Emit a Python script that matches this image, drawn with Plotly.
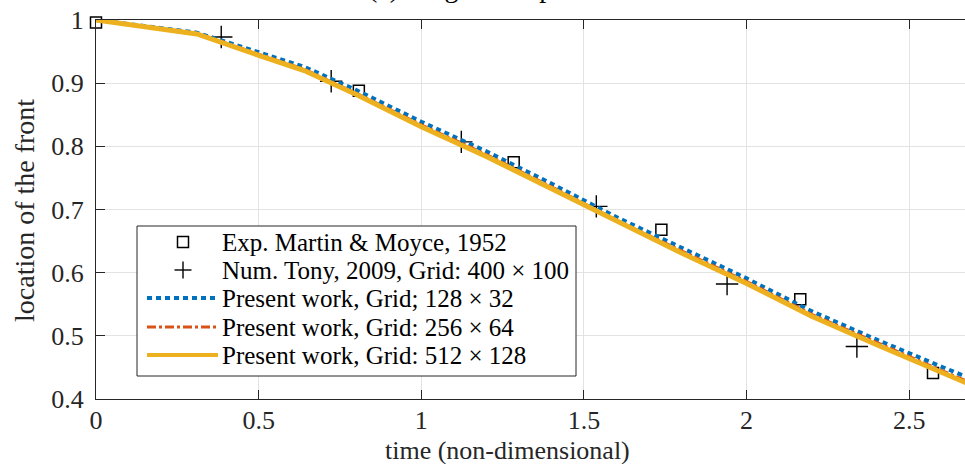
import plotly.graph_objects as go

# Experimental data (Martin & Moyce, 1952)
exp_t = [0.0, 0.808, 1.284, 1.738, 2.165, 2.573]
exp_z = [0.996, 0.888, 0.775, 0.668, 0.558, 0.441]

# Numerical reference (Tony, 2009)
tony_t = [0.385, 0.723, 1.123, 1.538, 1.940, 2.339]
tony_z = [0.973, 0.903, 0.807, 0.705, 0.582, 0.483]

# Present work, three grid resolutions
t_sim = [0.0, 0.31, 0.5, 0.64, 0.8, 1.0, 1.2, 1.4, 1.6, 1.8, 2.0, 2.2, 2.4, 2.6, 2.7]
z_128 = [1.000, 0.980, 0.949, 0.926, 0.889, 0.839, 0.792, 0.741, 0.688, 0.639, 0.591, 0.539, 0.494, 0.451, 0.430]
z_256 = [1.000, 0.979, 0.946, 0.922, 0.884, 0.834, 0.787, 0.736, 0.683, 0.634, 0.586, 0.534, 0.489, 0.445, 0.423]
z_512 = [1.000, 0.978, 0.944, 0.920, 0.882, 0.831, 0.784, 0.733, 0.680, 0.631, 0.583, 0.531, 0.486, 0.442, 0.420]

x_ticks = [0, 0.5, 1, 1.5, 2, 2.5]
y_ticks = [0.4, 0.5, 0.6, 0.7, 0.8, 0.9, 1.0]

legend_names = [
    "Exp. Martin & Moyce, 1952",
    "Num. Tony, 2009, Grid: 400 × 100",
    "Present work, Grid; 128 × 32",
    "Present work, Grid: 256 × 64",
    "Present work, Grid: 512 × 128",
]

BLUE = "#0072BD"
ORANGE = "#D95319"
YELLOW = "#EDB120"
AXC = "#262626"
FONT = "Liberation Serif"

W, H = 965, 464
ML, MR, MT, MB = 96, 0, 20, 65
PW, PH = W - ML - MR, H - MT - MB


def px(xp):
    return (xp - ML) / PW


def py(yp):
    return (H - MB - yp) / PH


fig = go.Figure()

fig.add_trace(go.Scatter(
    x=exp_t, y=exp_z, mode="markers", name=legend_names[0],
    marker=dict(symbol="square-open", size=11, color="black", line=dict(width=1.5, color="black")),
    cliponaxis=False,
))
fig.add_trace(go.Scatter(
    x=tony_t, y=tony_z, mode="markers", name=legend_names[1],
    marker=dict(symbol="cross-thin-open", size=16, color="black", line=dict(width=1.4, color="black")),
    cliponaxis=False,
))
fig.add_trace(go.Scatter(
    x=t_sim, y=z_128, mode="lines", name=legend_names[2],
    line=dict(color=BLUE, width=4, dash="5px,4px"),
))
fig.add_trace(go.Scatter(
    x=t_sim, y=z_256, mode="lines", name=legend_names[3],
    line=dict(color=ORANGE, width=3, dash="dashdot"),
))
fig.add_trace(go.Scatter(
    x=t_sim, y=z_512, mode="lines", name=legend_names[4],
    line=dict(color=YELLOW, width=5),
))

# Hand-drawn legend box with long line samples
shapes = [dict(type="rect", xref="paper", yref="paper",
               x0=px(137), x1=px(576), y0=py(376), y1=py(226),
               line=dict(color=AXC, width=1), fillcolor="white", layer="above")]
rows = [242, 270, 298, 327, 355]
mx = 183
shapes.append(dict(type="rect", xref="paper", yref="paper",
                   x0=px(mx - 5.5), x1=px(mx + 5.5), y0=py(rows[0] + 5.5), y1=py(rows[0] - 5.5),
                   line=dict(color="black", width=1.5), layer="above"))
shapes.append(dict(type="line", xref="paper", yref="paper",
                   x0=px(mx - 8.5), x1=px(mx + 8.5), y0=py(rows[1]), y1=py(rows[1]),
                   line=dict(color="black", width=1.4), layer="above"))
shapes.append(dict(type="line", xref="paper", yref="paper",
                   x0=px(mx), x1=px(mx), y0=py(rows[1] - 8.5), y1=py(rows[1] + 8.5),
                   line=dict(color="black", width=1.4), layer="above"))
for r, col, wd, ds in [(rows[2], BLUE, 4, "5px,4px"), (rows[3], ORANGE, 3, "dashdot"), (rows[4], YELLOW, 4, "solid")]:
    shapes.append(dict(type="line", xref="paper", yref="paper",
                       x0=px(147), x1=px(218), y0=py(r), y1=py(r),
                       line=dict(color=col, width=wd, dash=ds), layer="above"))

annotations = []
for r, name in zip(rows, legend_names):
    annotations.append(dict(xref="paper", yref="paper", x=px(220), y=py(r),
                            text=name, showarrow=False, xanchor="left", yanchor="middle",
                            font=dict(family=FONT, size=25, color="black")))

# Axis titles and figure title
annotations.append(dict(xref="paper", yref="paper", x=px(507), y=py(450),
                        text="time (non-dimensional)", showarrow=False,
                        xanchor="center", yanchor="middle", borderpad=0,
                        font=dict(family=FONT, size=26, color=AXC)))
annotations.append(dict(xref="paper", yref="paper", x=px(24), y=py(211),
                        text="location of the front", showarrow=False, textangle=-90,
                        xanchor="center", yanchor="middle",
                        font=dict(family=FONT, size=28, color=AXC)))
annotations.append(dict(xref="paper", yref="paper", x=px(366), y=py(5),
                        text="(a) Surge front position", showarrow=False,
                        xanchor="left", yanchor="bottom",
                        font=dict(family=FONT, size=28, color="black")))

fig.update_layout(
    width=W, height=H,
    margin=dict(l=ML, r=MR, t=MT, b=MB),
    paper_bgcolor="white", plot_bgcolor="white",
    showlegend=False,
    shapes=shapes, annotations=annotations,
    font=dict(family=FONT, size=26, color=AXC),
)
fig.update_xaxes(
    range=[0, PW / 325.3], tickvals=x_ticks, ticktext=[f"{v:g}" for v in x_ticks],
    ticks="inside", ticklen=9, tickwidth=1, tickcolor=AXC,
    showline=True, linecolor=AXC, linewidth=1, mirror="ticks",
    showgrid=True, gridcolor="#e3e3e3", gridwidth=1, zeroline=False,
    ticklabelstandoff=-2,
    tickfont=dict(family=FONT, size=26, color=AXC),
)
fig.update_yaxes(
    range=[0.4, 1.0], tickvals=y_ticks, ticktext=[f"{v:g}" for v in y_ticks],
    ticks="inside", ticklen=9, tickwidth=1, tickcolor=AXC,
    showline=True, linecolor=AXC, linewidth=1, mirror=False,
    showgrid=True, gridcolor="#e3e3e3", gridwidth=1, zeroline=False,
    ticklabelstandoff=6,
    tickfont=dict(family=FONT, size=26, color=AXC),
)

fig.write_html("out.html")
